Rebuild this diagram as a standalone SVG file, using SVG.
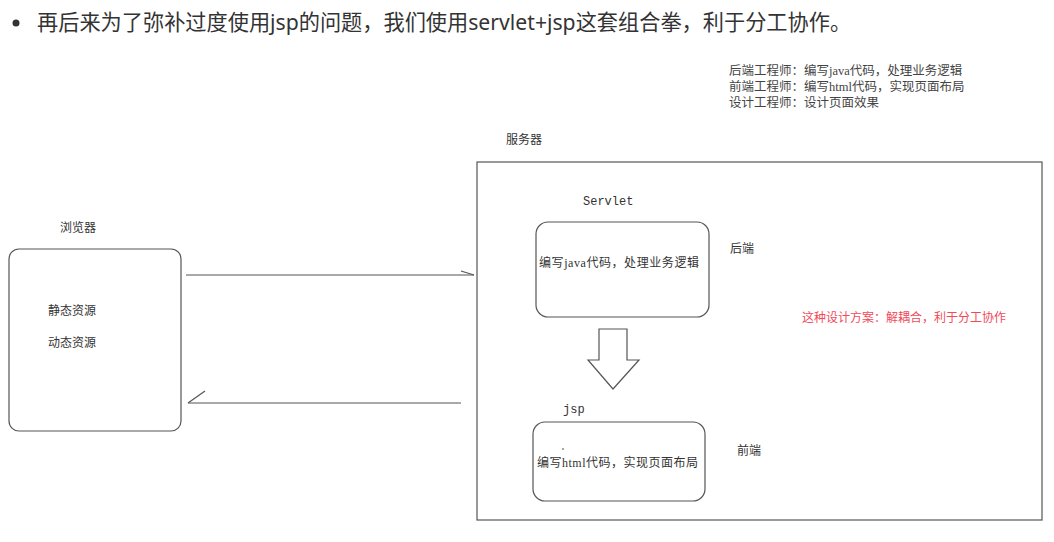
<svg xmlns="http://www.w3.org/2000/svg" width="1054" height="542" viewBox="0 0 1054 542">
<defs>
<style>
.hd{font-family:"Noto Sans","Noto Sans CJK SC",sans-serif;font-size:21.2px;fill:#333}
.t{font-family:"Liberation Serif","Noto Sans CJK SC",serif;font-size:12px;fill:#333}
.n{font-family:"Liberation Serif","Noto Sans CJK SC",serif;font-size:12.5px;fill:#444}
.m{font-family:"Liberation Mono","Noto Sans CJK SC",monospace;font-size:12px;fill:#333}
.red{font-family:"Liberation Serif","Noto Sans CJK SC",serif;font-size:12px;fill:#f04a5a}
.box{fill:#fff;stroke:#555;stroke-width:1.2}
.ln{fill:none;stroke:#555;stroke-width:1.2}
</style>
</defs>
<rect width="1054" height="542" fill="#fff"/>
<circle cx="16" cy="23" r="3.5" fill="#333"/>
<text class="hd" x="37" y="30">再后来为了弥补过度使用jsp的问题，我们使用servlet+jsp这套组合拳，利于分工协作。</text>
<g id="notes">
<text class="n" x="729" y="75">后端工程师：编写java代码，处理业务逻辑</text>
<text class="n" x="729" y="91">前端工程师：编写html代码，实现页面布局</text>
<text class="n" x="729" y="107">设计工程师：设计页面效果</text>
</g>
<g id="server">
<rect class="box" x="477" y="162" width="565" height="358"/>
<text class="t" x="506" y="144">服务器</text>
</g>
<g id="browser">
<rect class="box" x="9" y="249" width="172" height="182" rx="10"/>
<text class="t" x="60" y="232">浏览器</text>
<text class="t" x="48" y="315">静态资源</text>
<text class="t" x="48" y="347">动态资源</text>
</g>
<g id="servlet">
<text class="m" x="583" y="205">Servlet</text>
<rect class="box" x="536" y="222" width="173" height="95" rx="12"/>
<text class="t" x="539" y="267" textLength="160" lengthAdjust="spacing">编写java代码，处理业务逻辑</text>
<text class="t" x="730" y="253">后端</text>
</g>
<g id="jsp">
<text class="m" x="563" y="413">jsp</text>
<rect class="box" x="533" y="422" width="172" height="79" rx="12"/>
<circle cx="563" cy="449" r="0.8" fill="#333"/>
<text class="t" x="537" y="467" textLength="161" lengthAdjust="spacing">编写html代码，实现页面布局</text>
<text class="t" x="737" y="455">前端</text>
</g>
<g id="note-red">
<text class="red" x="802" y="322">这种设计方案：解耦合，利于分工协作</text>
</g>
<g id="connectors">
<line class="ln" x1="186" y1="275" x2="474" y2="275"/>
<line class="ln" x1="461" y1="271" x2="474" y2="275"/>
<line class="ln" x1="188" y1="403" x2="461" y2="403" stroke="#888"/>
<line class="ln" x1="188" y1="403" x2="205" y2="391"/>
<polygon class="ln" points="599,329 627,329 627,360 639,360 613,389 588,360 599,360"/>
</g>
</svg>
